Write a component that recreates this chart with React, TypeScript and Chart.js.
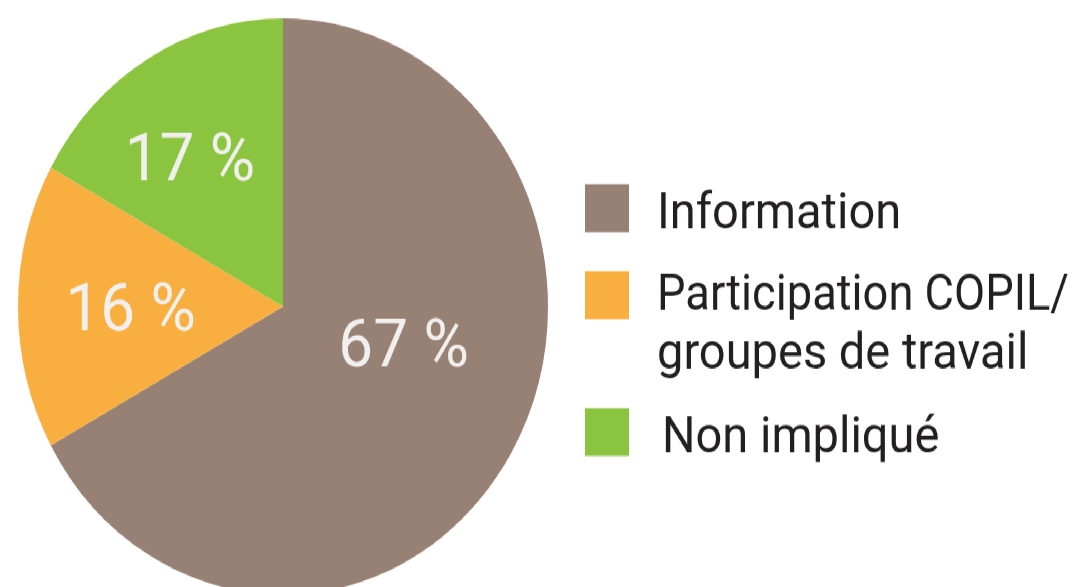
import React, { useEffect, useRef } from "react";
import { Chart, registerables } from "chart.js";

Chart.register(...registerables);

const categories: (string | string[])[] = [
  "Information",
  ["Participation COPIL/", "groupes de travail"],
  "Non impliqué",
];
const values = [67, 16, 17];
const valueLabels = ["67 %", "16 %", "17 %"];
const colors = ["#978174", "#F9AF40", "#8BC540"];

// layout (unstretched canvas coordinates)
const CANVAS_W = 1075;
const CANVAS_H = 540;
const STRETCH_Y = 587 / 540;
const PIE_RADIUS = 265;
const labelOffsets = [
  [0.455, 0.208],
  [-0.575, 0.083],
  [-0.351, -0.437],
];
const legendBoxX = 585;
const legendBoxSize = 44;
const legendBoxTops = [169.5, 249.5, 375.5];
const legendTextX = [657, 657, 662];
const legendBaselines = [210, 285.2, 415.5];
const legendLineGap = 53.6;
const legendRightLimit = 1069;

const labelPlugin = {
  id: "sliceLabels",
  afterDatasetsDraw(chart: any) {
    const ctx = chart.ctx;
    const meta = chart.getDatasetMeta(0);
    ctx.save();
    ctx.fillStyle = "#F1F0EE";
    ctx.font = "62px Roboto";
    ctx.textAlign = "center";
    ctx.textBaseline = "alphabetic";
    meta.data.forEach((arc: any, i: number) => {
      const r = arc.outerRadius;
      const x = arc.x + labelOffsets[i][0] * r;
      const y = arc.y + labelOffsets[i][1] * r;
      ctx.fillText(valueLabels[i], x, y);
    });
    ctx.restore();
  },
};

const legendPlugin = {
  id: "customLegend",
  afterDraw(chart: any) {
    const ctx = chart.ctx;
    const ds = chart.data.datasets[0];
    ctx.save();
    ctx.font = "47px Roboto";
    ctx.textAlign = "left";
    ctx.textBaseline = "alphabetic";
    (chart.data.labels as any[]).forEach((lab: any, i: number) => {
      ctx.fillStyle = ds.backgroundColor[i];
      ctx.fillRect(legendBoxX, legendBoxTops[i], legendBoxSize, legendBoxSize);
      ctx.fillStyle = "#231F20";
      const lines = Array.isArray(lab) ? lab : [lab];
      lines.forEach((ln: string, j: number) => {
        ctx.fillText(
          ln,
          legendTextX[i],
          legendBaselines[i] + j * legendLineGap,
          legendRightLimit - legendTextX[i]
        );
      });
    });
    ctx.restore();
  },
};

export default function App() {
  const ref = useRef<HTMLCanvasElement>(null);
  useEffect(() => {
    if (!ref.current) return;
    const chart = new Chart(ref.current, {
      type: "pie",
      data: {
        labels: categories as any,
        datasets: [
          {
            data: values,
            backgroundColor: colors,
            borderWidth: 0,
            clip: false as any,
          },
        ],
      },
      options: {
        responsive: false,
        animation: false,
        devicePixelRatio: 1,
        events: [],
        radius: PIE_RADIUS,
        layout: { padding: { left: 18, right: CANVAS_W - 548, top: 24, bottom: 0 } },
        plugins: {
          legend: { display: false },
          tooltip: { enabled: false },
        },
      } as any,
      plugins: [labelPlugin, legendPlugin],
    });
    return () => chart.destroy();
  }, []);
  return (
    <div
      style={{
        position: "absolute",
        left: 0,
        top: 0,
        width: CANVAS_W,
        height: CANVAS_H,
        transform: `scaleY(${STRETCH_Y})`,
        transformOrigin: "0 0",
        background: "#ffffff",
      }}
    >
      <canvas ref={ref} width={CANVAS_W} height={CANVAS_H} style={{ display: "block" }} />
    </div>
  );
}
